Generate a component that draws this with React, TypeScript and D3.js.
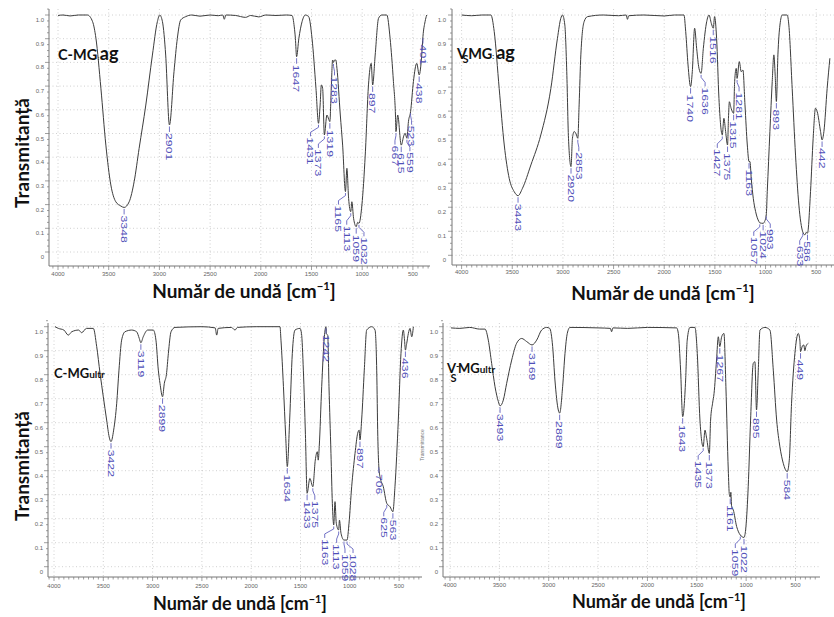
import React from "react";
import * as d3 from "d3";

type Pt = [number, number];

// ---------- spectra: [wavenumber cm-1, transmittance] ----------
const cmgAgSpectrum: Pt[] = [
  [4000, 0.998], [3950, 1.0], [3880, 0.996], [3800, 1.0], [3710, 1.0], [3659, 0.972], [3626, 0.902],
  [3577, 0.691], [3528, 0.451], [3479, 0.283], [3430, 0.212], [3380, 0.194], [3348, 0.188], [3298, 0.212],
  [3249, 0.297], [3200, 0.437], [3134, 0.62], [3069, 0.831], [3020, 0.972], [2997, 1.0], [2970, 0.972],
  [2938, 0.831], [2901, 0.536], [2856, 0.761], [2823, 0.902], [2790, 0.979], [2741, 0.993], [2680, 1.0],
  [2600, 0.995], [2500, 1.0], [2420, 0.997], [2375, 1.0], [2360, 0.982], [2345, 1.0], [2250, 0.998],
  [2150, 0.99], [2100, 0.998], [2020, 0.992], [1950, 1.0], [1850, 0.998], [1750, 1.0], [1692, 0.998],
  [1670, 0.95], [1659, 0.902], [1647, 0.824], [1625, 0.9], [1593, 0.972], [1561, 1.0], [1528, 0.993],
  [1495, 0.902], [1456, 0.691], [1431, 0.543], [1415, 0.62], [1403, 0.705], [1390, 0.69], [1373, 0.494],
  [1348, 0.578], [1330, 0.56], [1319, 0.55], [1305, 0.691], [1292, 0.81], [1283, 0.8], [1272, 0.81],
  [1260, 0.81], [1249, 0.775], [1216, 0.578], [1193, 0.451], [1165, 0.255], [1151, 0.353], [1134, 0.226],
  [1113, 0.17], [1102, 0.212], [1085, 0.142], [1059, 0.107], [1045, 0.125], [1032, 0.121], [1003, 0.198],
  [970, 0.409], [938, 0.705], [911, 0.796], [897, 0.705], [872, 0.831], [839, 0.986], [807, 1.0],
  [757, 1.0], [725, 0.902], [692, 0.719], [672, 0.578], [667, 0.508], [650, 0.578], [615, 0.451],
  [590, 0.49], [577, 0.501], [559, 0.48], [544, 0.55], [523, 0.592], [495, 0.719], [462, 0.796],
  [438, 0.747], [413, 0.831], [401, 0.909], [380, 0.972], [364, 1.0],
];

const vsmgAgSpectrum: Pt[] = [
  [4000, 1.0], [3900, 0.997], [3800, 1.0], [3711, 1.0], [3678, 0.931], [3629, 0.694], [3579, 0.459],
  [3530, 0.32], [3481, 0.265], [3443, 0.248], [3399, 0.279], [3316, 0.376], [3218, 0.501], [3119, 0.694],
  [3054, 0.903], [3021, 0.986], [3004, 1.0], [2981, 0.958], [2962, 0.764], [2945, 0.487], [2920, 0.369],
  [2906, 0.487], [2889, 0.515], [2870, 0.505], [2853, 0.487], [2840, 0.626], [2823, 0.834], [2791, 0.972],
  [2758, 0.993], [2600, 1.0], [2450, 0.997], [2375, 1.0], [2363, 0.982], [2350, 0.997], [2200, 1.0],
  [2000, 0.996], [1900, 1.0], [1805, 1.0], [1788, 0.931], [1765, 0.792], [1740, 0.702], [1723, 0.764],
  [1700, 0.945], [1680, 0.861], [1657, 0.778], [1636, 0.757], [1614, 0.861], [1581, 0.972], [1558, 1.0],
  [1535, 0.965], [1516, 0.945], [1503, 0.993], [1483, 0.903], [1460, 0.653], [1427, 0.501], [1411, 0.57],
  [1394, 0.515], [1375, 0.459], [1366, 0.57], [1357, 0.639], [1340, 0.612], [1315, 0.591], [1305, 0.723],
  [1289, 0.778], [1281, 0.736], [1259, 0.806], [1240, 0.764], [1223, 0.771], [1203, 0.626], [1180, 0.459],
  [1163, 0.39], [1154, 0.39], [1141, 0.32], [1121, 0.237], [1098, 0.182], [1065, 0.14], [1057, 0.135],
  [1024, 0.133], [1010, 0.14], [993, 0.168], [983, 0.265], [957, 0.515], [934, 0.723], [918, 0.834],
  [905, 0.75], [893, 0.64], [878, 0.834], [858, 0.958], [835, 1.0], [786, 1.0], [770, 0.958],
  [737, 0.694], [704, 0.417], [671, 0.209], [633, 0.098], [612, 0.085], [600, 0.095], [586, 0.092],
  [556, 0.265], [530, 0.487], [507, 0.612], [490, 0.598], [457, 0.515], [442, 0.48], [424, 0.515],
  [392, 0.694], [365, 0.82],
];

const cmgUltrSpectrum: Pt[] = [
  [3990, 1.0], [3956, 0.993], [3900, 0.986], [3855, 0.965], [3820, 0.979], [3750, 0.986], [3720, 0.975],
  [3670, 0.993], [3601, 0.993], [3567, 0.917], [3533, 0.806], [3500, 0.708], [3466, 0.611], [3440, 0.54],
  [3422, 0.521], [3395, 0.569], [3364, 0.681], [3341, 0.819], [3314, 0.944], [3280, 0.979], [3212, 0.986],
  [3162, 0.979], [3135, 0.951], [3119, 0.933], [3095, 0.958], [3050, 0.986], [2993, 0.986], [2966, 0.944],
  [2942, 0.819], [2925, 0.764], [2899, 0.708], [2881, 0.764], [2860, 0.8], [2840, 0.889], [2813, 0.979],
  [2773, 0.997], [2500, 1.0], [2365, 0.995], [2350, 0.965], [2335, 0.993], [2200, 0.997], [2164, 0.986],
  [2140, 0.997], [1950, 1.0], [1708, 1.0], [1698, 0.944], [1673, 0.75], [1650, 0.542], [1634, 0.417],
  [1610, 0.611], [1583, 0.889], [1556, 0.986], [1505, 0.993], [1490, 0.972], [1471, 0.819], [1450, 0.55],
  [1433, 0.306], [1405, 0.368], [1375, 0.333], [1350, 0.444], [1330, 0.479], [1320, 0.444], [1310, 0.5],
  [1285, 0.75], [1258, 0.958], [1242, 1.0], [1236, 0.97], [1224, 0.965], [1211, 0.75], [1191, 0.472],
  [1177, 0.264], [1163, 0.174], [1150, 0.271], [1137, 0.181], [1113, 0.153], [1105, 0.194], [1089, 0.139],
  [1059, 0.111], [1028, 0.111], [1008, 0.181], [981, 0.333], [947, 0.472], [920, 0.556], [905, 0.569],
  [897, 0.528], [880, 0.611], [853, 0.819], [829, 0.986], [778, 1.0], [744, 0.986], [727, 0.819],
  [716, 0.542], [706, 0.42], [694, 0.375], [660, 0.333], [625, 0.264], [592, 0.25], [563, 0.229],
  [542, 0.333], [508, 0.611], [481, 0.889], [457, 0.986], [445, 0.944], [436, 0.903], [423, 0.93],
  [406, 0.972], [389, 0.993], [372, 0.958], [355, 1.0],
];

const vsmgUltrSpectrum: Pt[] = [
  [3990, 0.995], [3900, 0.993], [3800, 0.997], [3700, 0.99], [3645, 0.99], [3612, 0.944], [3578, 0.847],
  [3544, 0.75], [3510, 0.688], [3493, 0.67], [3460, 0.694], [3426, 0.764], [3375, 0.861], [3325, 0.931],
  [3274, 0.951], [3223, 0.938], [3169, 0.924], [3122, 0.944], [3072, 0.986], [3021, 0.997], [2990, 0.993],
  [2960, 0.917], [2937, 0.778], [2903, 0.653], [2889, 0.64], [2859, 0.75], [2835, 0.889], [2812, 0.972],
  [2785, 0.997], [2500, 0.995], [2375, 0.993], [2363, 0.979], [2350, 0.995], [2200, 0.993], [2000, 0.997],
  [1704, 0.995], [1687, 0.972], [1664, 0.819], [1643, 0.625], [1613, 0.778], [1597, 0.944], [1569, 0.997],
  [1519, 0.997], [1495, 0.889], [1468, 0.611], [1435, 0.5], [1417, 0.569], [1400, 0.535], [1373, 0.472],
  [1360, 0.611], [1340, 0.681], [1325, 0.722], [1300, 0.861], [1282, 0.958], [1267, 0.917], [1248, 0.958],
  [1225, 0.972], [1205, 0.75], [1181, 0.403], [1170, 0.3], [1161, 0.29], [1155, 0.31], [1147, 0.25],
  [1130, 0.236], [1096, 0.167], [1059, 0.132], [1022, 0.122], [1002, 0.167], [979, 0.333], [955, 0.611],
  [928, 0.847], [911, 0.854], [895, 0.653], [877, 0.819], [860, 0.986], [810, 0.997], [759, 0.986],
  [725, 0.819], [691, 0.611], [658, 0.5], [624, 0.431], [584, 0.396], [563, 0.444], [540, 0.681],
  [506, 0.889], [472, 0.972], [456, 0.944], [449, 0.896], [430, 0.92], [416, 0.924], [405, 0.9],
  [395, 0.917], [371, 0.931],
];

// ---------- peak labels ----------
const cmgAgPeaks = [3348, 2901, 1647, 1431, 1373, 1319, 1283, 1165, 1113, 1059, 1032, 897, 667, 615, 559, 523, 438, 401];
const vsmgAgPeaks = [3443, 2920, 2853, 1740, 1636, 1516, 1427, 1375, 1315, 1281, 1163, 1057, 1024, 993, 893, 633, 586, 442];
const cmgUltrPeaks = [3422, 3119, 2899, 1634, 1433, 1375, 1242, 1163, 1113, 1059, 1028, 897, 706, 625, 563, 436];
const vsmgUltrPeaks = [3493, 3169, 2889, 1643, 1435, 1373, 1267, 1161, 1059, 1022, 895, 584, 449];

// ---------- axis ticks ----------
const xTickValues = [4000, 3500, 3000, 2500, 2000, 1500, 1000, 500];
const yTickValues = [0, 0.1, 0.2, 0.3, 0.4, 0.5, 0.6, 0.7, 0.8, 0.9, 1.0];
const yTickLabels = ["0", "0.1", "0.2", "0.3", "0.4", "0.5", "0.6", "0.7", "0.8", "0.9", "1.0"];

const yAxisTitle = "Transmitanță";
const xAxisTitle = "Număr de undă [cm";

// ---------- layout (pixels) ----------
const layouts = [
  { xr: [58, 412.9], yr: [252, 15], axisX: 49, axisY: 266, top: 9, right: 430, xLabY: 276, yLabX: 44, titleX: 244, titleY: 298, titleSize: 19, yTitleY: 153 },
  { xr: [461.6, 816.2], yr: [255.3, 15], axisX: 452, axisY: 265, top: 9, right: 834, xLabY: 274, yLabX: 446, titleX: 663, titleY: 300, titleSize: 19, yTitleY: -1 },
  { xr: [54, 399.1], yr: [566.7, 326.7], axisX: 48, axisY: 577, top: 323, right: 422, xLabY: 588, yLabX: 43, titleX: 240, titleY: 610, titleSize: 18, yTitleY: 466 },
  { xr: [450, 795.5], yr: [566.7, 326.7], axisX: 443, axisY: 577, top: 323, right: 820, xLabY: 587, yLabX: 438, titleX: 659, titleY: 608, titleSize: 18, yTitleY: -1 },
];

// horizontal text offsets of peak labels with bent leaders (px)
const labelShifts: Record<number, number>[] = [
  { 1431: -8, 1373: -6, 1283: 1, 1165: -7, 1113: -4, 1032: 5, 667: -1, 559: 3, 523: 1 },
  { 1636: 4, 1427: -5, 1281: 2, 1057: -6, 993: 4, 633: -3, 2853: 1 },
  { 1375: 2, 1163: -9, 1113: -2, 1059: 1, 1028: 6, 625: -3 },
  { 1435: -5, 1059: -5 },
];

const series = [
  { data: cmgAgSpectrum, peaks: cmgAgPeaks },
  { data: vsmgAgSpectrum, peaks: vsmgAgPeaks },
  { data: cmgUltrSpectrum, peaks: cmgUltrPeaks },
  { data: vsmgUltrSpectrum, peaks: vsmgUltrPeaks },
];

function valueAt(data: Pt[], w: number): number {
  for (let i = 0; i < data.length - 1; i++) {
    const [w0, t0] = data[i];
    const [w1, t1] = data[i + 1];
    if (w <= w0 && w >= w1) {
      const f = (w0 - w) / (w0 - w1);
      return t0 + f * (t1 - t0);
    }
  }
  return data[data.length - 1][1];
}

const LABEL_COLOR = "#4f4fb8";
const TICK_FONT = "'Liberation Sans', Arial, sans-serif";
const TITLE_FONT = "Lato, 'Open Sans', sans-serif";

function Panel({ idx }: { idx: number }) {
  const L = layouts[idx];
  const S = series[idx];
  const xs = d3.scaleLinear().domain([4000, 500]).range(L.xr);
  const ys = d3.scaleLinear().domain([0, 1]).range(L.yr);
  const wLeft = xs.invert(L.axisX);
  const wRight = xs.invert(L.right);
  const line = d3
    .line<Pt>()
    .x((d) => xs(d[0]))
    .y((d) => ys(d[1]))
    .curve(d3.curveMonotoneX);

  const minorX = d3.range(4050, Math.floor(wRight), -50).filter((w) => w <= wLeft);
  const minorY = d3.range(0, 1.0251, 0.025);
  const shifts = labelShifts[idx];

  return (
    <g>
      {/* grid */}
      {yTickValues.map((t) => (
        <line key={"gy" + t} x1={L.axisX} x2={L.right} y1={ys(t)} y2={ys(t)} stroke="#c4c4c4" strokeWidth={0.8} strokeDasharray="1 2.5" />
      ))}
      {xTickValues.map((w) => (
        <line key={"gx" + w} x1={xs(w)} x2={xs(w)} y1={L.top} y2={L.axisY} stroke="#c4c4c4" strokeWidth={0.8} strokeDasharray="1 2.5" />
      ))}
      {/* axes */}
      <line x1={L.axisX} x2={L.axisX} y1={L.top} y2={L.axisY} stroke="#777" strokeWidth={1} />
      <line x1={L.axisX} x2={L.right} y1={L.axisY} y2={L.axisY} stroke="#777" strokeWidth={1} />
      {minorX.map((w) => (
        <line key={"mx" + w} x1={xs(w)} x2={xs(w)} y1={L.axisY} y2={L.axisY + (w % 500 === 0 ? 4 : 2.5)} stroke="#777" strokeWidth={0.7} />
      ))}
      {minorY.map((t, i) => (
        <line key={"my" + i} x1={L.axisX - (i % 4 === 0 ? 4 : 2)} x2={L.axisX} y1={ys(t)} y2={ys(t)} stroke="#777" strokeWidth={0.7} />
      ))}
      {xTickValues.map((w) => (
        <text key={"xl" + w} x={xs(w)} y={L.xLabY} textAnchor="middle" fontSize={6} fill="#666" fontFamily={TICK_FONT}>
          {w}
        </text>
      ))}
      {yTickValues.map((t, i) => (
        <text key={"yl" + t} x={L.yLabX} y={ys(t) + 5} textAnchor="end" dominantBaseline="central" fontSize={6} fill="#666" fontFamily={TICK_FONT}>
          {yTickLabels[i]}
        </text>
      ))}
      {/* spectrum */}
      <path d={line(S.data) || ""} fill="none" stroke="#3c3c3c" strokeWidth={1} strokeLinejoin="round" />
      {/* peak labels */}
      {S.peaks.map((w) => {
        const px = xs(w);
        const py = ys(valueAt(S.data, w));
        const dx = shifts[w] || 0;
        let leader: string;
        let ty: number;
        if (dx === 0) {
          leader = `M${px},${py + 1.5}L${px},${py + 7}`;
          ty = py + 8;
        } else {
          leader = `M${px},${py + 1.5}L${px},${py + 4}L${px + dx},${py + 9}L${px + dx},${py + 13}`;
          ty = py + 14;
        }
        return (
          <g key={"pk" + w}>
            <path d={leader} fill="none" stroke={LABEL_COLOR} strokeWidth={0.8} />
            <text
              transform={`translate(${px + dx},${ty}) rotate(90) scale(1.45,1)`}
              fontSize={8.5}
              fill={LABEL_COLOR}
              fontFamily={TICK_FONT}
              dominantBaseline="central"
            >
              {w}
            </text>
          </g>
        );
      })}
      {/* x-axis title */}
      <text x={L.titleX} y={L.titleY} textAnchor="middle" fontSize={L.titleSize} fontWeight="bold" fontFamily={TITLE_FONT} fill="#111">
        {xAxisTitle}
        <tspan fontSize={L.titleSize * 0.6} dy={-L.titleSize * 0.4}>−1</tspan>
        <tspan dy={L.titleSize * 0.4}>]</tspan>
      </text>
      {L.yTitleY > 0 && (
        <text transform={`translate(29,${L.yTitleY}) rotate(-90)`} textAnchor="middle" fontSize={19} fontWeight="bold" fontFamily={TITLE_FONT} fill="#111">
          {yAxisTitle}
        </text>
      )}
    </g>
  );
}

function Titles() {
  return (
    <g fontFamily={TITLE_FONT} fontWeight="bold" fill="#111">
      {/* C-MG ag */}
      <text x={58} y={60}>
        <tspan fontSize={14.5}>C-MG</tspan>
        <tspan fontSize={6} dx={0.5}>:</tspan>
        <tspan fontSize={18} dx={0.5}>ag</tspan>
      </text>
      {/* VsMG: ag */}
      <text x={457} y={59}>
        <tspan fontSize={14.5}>V</tspan>
        <tspan fontSize={11} dx={-4.5} dy={4}>S</tspan>
        <tspan fontSize={14.5} dx={-0.5} dy={-4}>MG</tspan>
        <tspan fontSize={7}>:</tspan>
        <tspan fontSize={18} dx={2}>ag</tspan>
      </text>
      {/* C-MGultr */}
      <text x={54} y={378}>
        <tspan fontSize={13}>C-MG</tspan>
        <tspan fontSize={10}>ultr</tspan>
      </text>
      {/* V-sMGultr */}
      <text x={447} y={373}>
        <tspan fontSize={13}>V</tspan>
        <tspan fontSize={9} dy={-4}>-</tspan>
        <tspan fontSize={11} dx={-9} dy={13}>S</tspan>
        <tspan fontSize={13} dx={1.5} dy={-9}>MG</tspan>
        <tspan fontSize={10}>ultr</tspan>
      </text>
    </g>
  );
}

export default function App() {
  return (
    <svg
      width={834}
      height={617}
      viewBox="0 0 834 617"
      style={{ position: "absolute", left: 0, top: 0, background: "#fff" }}
    >
      <rect x={0} y={0} width={834} height={617} fill="#fff" />
      {[0, 1, 2, 3].map((i) => (
        <Panel key={i} idx={i} />
      ))}
      <Titles />
      <text transform="translate(424,445) rotate(-90)" textAnchor="middle" fontSize={5} fill="#777" fontFamily={TICK_FONT}>
        Transmittance
      </text>
    </svg>
  );
}
